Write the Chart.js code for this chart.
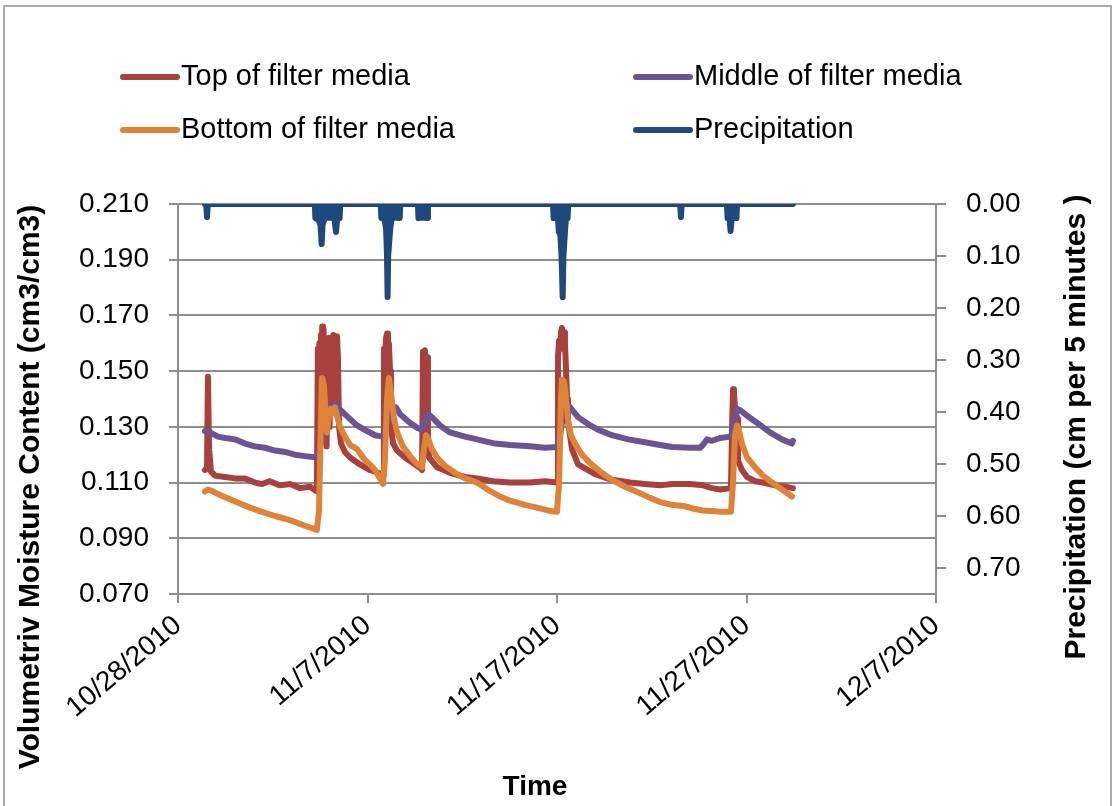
<!DOCTYPE html>
<html>
<head>
<meta charset="utf-8">
<title>Volumetric moisture content and precipitation</title>
<script src="https://cdn.jsdelivr.net/npm/chart.js@4.4.1/dist/chart.umd.min.js"></script>
<style>
  html, body { margin: 0; padding: 0; background: #fff; }
</style>
</head>
<body>
<canvas id="grafica" width="1115" height="806"></canvas>
<script>
// x = days after 10/28/2010 00:00, y = value
const xTickLabels = ['10/28/2010', '11/7/2010', '11/17/2010', '11/27/2010', '12/7/2010'];

const topMedia = [
  [1.42,0.1145],[1.53,0.115],[1.58,0.148],[1.64,0.122],[1.74,0.114],[1.95,0.1125],[2.48,0.112],[3.01,0.1115],[3.54,0.1115],[4.06,0.110],[4.43,0.1095],[4.85,0.1105],[5.38,0.109],[5.91,0.1095],[6.44,0.108],[6.97,0.1085],[7.28,0.107],[7.33,0.107],
  [7.38,0.158],[7.42,0.140],[7.46,0.160],[7.50,0.135],[7.54,0.163],[7.58,0.150],[7.61,0.166],[7.65,0.158],[7.68,0.165],[7.72,0.140],[7.76,0.125],[7.80,0.150],[7.84,0.123],[7.88,0.160],[7.92,0.145],[7.96,0.162],[8.00,0.130],[8.04,0.161],[8.08,0.135],[8.12,0.162],[8.16,0.140],[8.20,0.163],[8.25,0.145],[8.30,0.162],[8.34,0.150],[8.39,0.1625],[8.44,0.155],[8.50,0.130],[8.60,0.124],[8.81,0.121],[9.08,0.119],[9.60,0.1165],[10.13,0.1145],[10.77,0.113],
  [10.82,0.113],[10.87,0.158],[10.92,0.155],[10.98,0.162],[11.03,0.1635],[11.08,0.158],[11.13,0.160],[11.19,0.150],[11.24,0.130],[11.35,0.124],[11.56,0.1215],[11.98,0.119],[12.40,0.117],[12.82,0.115],
  [12.88,0.1145],[12.93,0.157],[12.98,0.156],[13.03,0.1575],[13.09,0.152],[13.14,0.155],[13.19,0.125],[13.25,0.119],[13.67,0.1155],[14.35,0.1135],[15.15,0.112],[15.78,0.1115],[16.62,0.1105],[17.52,0.110],[18.58,0.110],[19.37,0.1105],[20.00,0.110],
  [20.05,0.155],[20.11,0.161],[20.16,0.158],[20.21,0.164],[20.26,0.1655],[20.32,0.162],[20.37,0.164],[20.42,0.160],[20.48,0.150],[20.53,0.140],[20.58,0.132],[20.79,0.122],[21.11,0.1165],[22.01,0.113],[22.90,0.111],[23.85,0.110],[24.64,0.1095],[25.44,0.109],[26.07,0.1095],[27.02,0.1095],[27.70,0.109],[28.18,0.108],[28.61,0.1075],[29.18,0.108],
  [29.24,0.130],[29.29,0.1435],[29.34,0.142],[29.39,0.137],[29.50,0.133],[29.55,0.118],[29.76,0.1145],[30.03,0.112],[30.45,0.1105],[30.87,0.110],[31.50,0.109],[32.03,0.1085],[32.45,0.108]
];

const middleMedia = [
  [1.42,0.1285],[1.69,0.128],[2.11,0.1265],[2.48,0.126],[3.01,0.1255],[3.54,0.124],[4.06,0.123],[4.59,0.1225],[5.12,0.1215],[5.65,0.121],[6.17,0.120],[6.70,0.1195],[7.33,0.119],
  [7.44,0.121],[7.60,0.126],[7.76,0.131],[7.92,0.134],[8.07,0.1375],[8.23,0.137],[8.34,0.1385],[8.44,0.137],[8.65,0.1355],[8.97,0.1335],[9.45,0.1305],[9.97,0.1285],[10.40,0.127],[10.82,0.1265],
  [10.92,0.128],[11.08,0.133],[11.29,0.1365],[11.50,0.137],[11.72,0.1345],[12.24,0.1315],[12.66,0.1295],[12.88,0.129],[13.03,0.1315],[13.19,0.1345],[13.40,0.1335],[13.83,0.1305],[14.35,0.128],[15.15,0.1265],[15.78,0.1255],[16.73,0.124],[17.52,0.1235],[18.58,0.123],[19.37,0.1225],[20.00,0.1228],
  [20.16,0.127],[20.32,0.134],[20.48,0.1385],[20.69,0.137],[21.11,0.1335],[21.64,0.131],[22.16,0.129],[22.90,0.127],[23.75,0.1255],[24.64,0.1245],[25.44,0.1235],[26.07,0.1228],[27.02,0.1225],[27.55,0.1225],[27.70,0.1235],[27.92,0.1255],[28.18,0.125],[28.61,0.126],[29.18,0.1265],
  [29.34,0.131],[29.50,0.1365],[29.66,0.136],[30.03,0.134],[30.55,0.1315],[31.24,0.128],[31.87,0.1255],[32.40,0.124],[32.45,0.125]
];

const bottomMedia = [
  [1.42,0.1068],[1.58,0.1075],[1.79,0.107],[2.22,0.1055],[2.74,0.104],[3.27,0.1025],[3.80,0.101],[4.43,0.0995],[5.12,0.098],[5.91,0.0965],[6.70,0.0945],[7.33,0.093],
  [7.44,0.100],[7.55,0.135],[7.60,0.1475],[7.70,0.145],[7.81,0.132],[7.86,0.128],[7.97,0.134],[8.07,0.1365],[8.18,0.135],[8.28,0.137],[8.39,0.134],[8.55,0.130],[8.81,0.1265],[9.08,0.1235],[9.45,0.122],[9.87,0.118],[10.13,0.1165],[10.40,0.1145],[10.82,0.1095],
  [10.92,0.118],[11.03,0.140],[11.13,0.1475],[11.24,0.142],[11.40,0.133],[11.56,0.128],[11.87,0.123],[12.24,0.1195],[12.56,0.117],[12.88,0.1155],
  [12.98,0.122],[13.09,0.127],[13.19,0.126],[13.40,0.122],[13.67,0.119],[14.09,0.116],[14.62,0.1135],[15.15,0.1115],[15.78,0.110],[16.46,0.107],[16.99,0.105],[17.52,0.1035],[18.31,0.102],[18.94,0.101],[19.52,0.100],[20.00,0.0995],
  [20.11,0.110],[20.21,0.140],[20.26,0.147],[20.37,0.1465],[20.48,0.140],[20.58,0.1325],[20.74,0.127],[20.95,0.124],[21.32,0.120],[21.74,0.117],[22.27,0.114],[22.90,0.111],[23.59,0.1085],[24.27,0.1065],[24.91,0.1045],[25.44,0.103],[26.07,0.102],[26.75,0.1015],[27.28,0.1005],[27.70,0.100],[28.18,0.0998],[28.61,0.0995],[29.18,0.0995],
  [29.29,0.110],[29.39,0.127],[29.50,0.1305],[29.60,0.129],[29.76,0.124],[30.03,0.119],[30.45,0.1155],[30.87,0.1125],[31.35,0.110],[31.87,0.1075],[32.40,0.105]
];

// cm per 5 minutes, right axis (reversed)
const precipitation = [
  [1.42,0],[1.49,0],[1.53,0.025],[1.57,0],
  [7.22,0],[7.25,0.027],[7.40,0.03],[7.52,0.04],[7.58,0.077],[7.63,0.04],[7.75,0.027],[8.00,0.026],[8.25,0.027],[8.34,0.054],[8.40,0.027],[8.53,0.027],[8.56,0],
  [10.70,0],[10.73,0.027],[10.90,0.03],[10.98,0.047],[11.03,0.1],[11.06,0.179],[11.09,0.1],[11.20,0.047],[11.28,0.027],[11.50,0.026],[11.70,0.027],[11.73,0],
  [12.66,0],[12.69,0.027],[12.90,0.026],[13.16,0.027],[13.19,0],
  [19.79,0],[19.82,0.027],[20.05,0.027],[20.10,0.054],[20.18,0.06],[20.24,0.1],[20.30,0.179],[20.34,0.1],[20.42,0.054],[20.47,0.027],[20.56,0.027],[20.59,0],
  [26.50,0],[26.54,0.025],[26.58,0],
  [28.97,0],[29.00,0.027],[29.10,0.027],[29.16,0.052],[29.22,0.027],[29.47,0.027],[29.50,0],
  [32.45,0]
];

const seriesNames = ['Top of filter media', 'Middle of filter media', 'Bottom of filter media', 'Precipitation'];
const seriesColors = ['#A8403D', '#6B5493', '#E08338', '#1F497D'];

const FONT = '"Liberation Sans", Arial, sans-serif';
const GRIS = '#8e8e8e';

function aPuntos(pares) {
    return pares.map(p => ({ x: p[0], y: p[1] }));
}

function serie(i, pares, eje, orden) {
    return {
        label: seriesNames[i],
        data: aPuntos(pares),
        yAxisID: eje,
        borderColor: seriesColors[i],
        backgroundColor: seriesColors[i],
        borderWidth: 6,
        borderCapStyle: 'round',
        borderJoinStyle: 'round',
        pointRadius: 0,
        tension: 0,
        fill: false,
        order: orden
    };
}

// leyenda y titulos dibujados a mano para copiar la disposicion de Excel
const decorado = {
    id: 'decorado',
    beforeDraw(chart) {
        const ctx = chart.ctx;
        ctx.save();
        ctx.strokeStyle = GRIS;
        ctx.lineWidth = 1.5;
        ctx.strokeRect(4, 6, 1107, 820);
        ctx.restore();
    },
    afterDraw(chart) {
        const ctx = chart.ctx;
        const sitios = [[123, 77], [636, 77], [123, 130], [636, 130]];
        ctx.save();
        ctx.font = '29px ' + FONT;
        ctx.textBaseline = 'middle';
        ctx.fillStyle = '#000';
        chart.data.datasets.forEach((ds, i) => {
            const [x, y] = sitios[i];
            ctx.strokeStyle = ds.borderColor;
            ctx.lineWidth = 6;
            ctx.lineCap = 'round';
            ctx.beginPath();
            ctx.moveTo(x, y);
            ctx.lineTo(x + 54, y);
            ctx.stroke();
            ctx.fillText(ds.label, x + 58, y);
        });

        ctx.font = 'bold 28px ' + FONT;
        ctx.textAlign = 'center';
        ctx.fillText('Time', 535, 787);

        ctx.font = 'bold 30px ' + FONT;
        ctx.save();
        ctx.translate(31, 487);
        ctx.rotate(-Math.PI / 2);
        ctx.fillText('Volumetriv Moisture Content (cm3/cm3)', 0, 0);
        ctx.restore();

        ctx.save();
        ctx.translate(1077, 427);
        ctx.rotate(-Math.PI / 2);
        ctx.fillText('Precipitation (cm per 5 minutes )', 0, 0);
        ctx.restore();
        ctx.restore();
    }
};

const lluvia = serie(3, precipitation, 'y2', 1);
lluvia.fill = 'origin';

const ctx = document.getElementById('grafica');
const grafica = new Chart(ctx, {
    type: 'line',
    data: {
        datasets: [
            serie(0, topMedia, 'y', 4),
            serie(1, middleMedia, 'y', 3),
            serie(2, bottomMedia, 'y', 2),
            lluvia
        ]
    },
    options: {
        responsive: false,
        animation: false,
        layout: { padding: { top: 204, left: 0, right: 0, bottom: 0 } },
        plugins: {
            legend: { display: false },
            tooltip: { enabled: false }
        },
        scales: {
            x: {
                type: 'linear',
                min: 0,
                max: 40,
                ticks: {
                    stepSize: 10,
                    autoSkip: false,
                    minRotation: 40,
                    maxRotation: 40,
                    padding: 6,
                    color: '#000',
                    font: { family: FONT, size: 28 },
                    callback: function(value, index) {
                        return xTickLabels[index];
                    }
                },
                grid: { drawOnChartArea: false, color: GRIS, lineWidth: 2, tickLength: 9 },
                border: { color: GRIS, width: 2 },
                afterFit: function(scale) { scale.height = 212; }
            },
            y: {
                position: 'left',
                min: 0.07,
                max: 0.21,
                ticks: {
                    stepSize: 0.02,
                    padding: 20,
                    color: '#000',
                    font: { family: FONT, size: 28 },
                    callback: function(value) { return value.toFixed(3); }
                },
                grid: { color: GRIS, lineWidth: 2, tickLength: 9 },
                border: { color: GRIS, width: 2 },
                afterFit: function(scale) { scale.width = 178; }
            },
            y2: {
                position: 'right',
                reverse: true,
                min: 0,
                max: 0.75,
                ticks: {
                    stepSize: 0.1,
                    includeBounds: false,
                    padding: 20,
                    color: '#000',
                    font: { family: FONT, size: 28 },
                    callback: function(value) { return value.toFixed(2); }
                },
                grid: { drawOnChartArea: false, color: GRIS, lineWidth: 2, tickLength: 10 },
                border: { color: GRIS, width: 2 },
                afterFit: function(scale) { scale.width = 179; }
            }
        }
    },
    plugins: [decorado]
});
</script>
</body>
</html>
